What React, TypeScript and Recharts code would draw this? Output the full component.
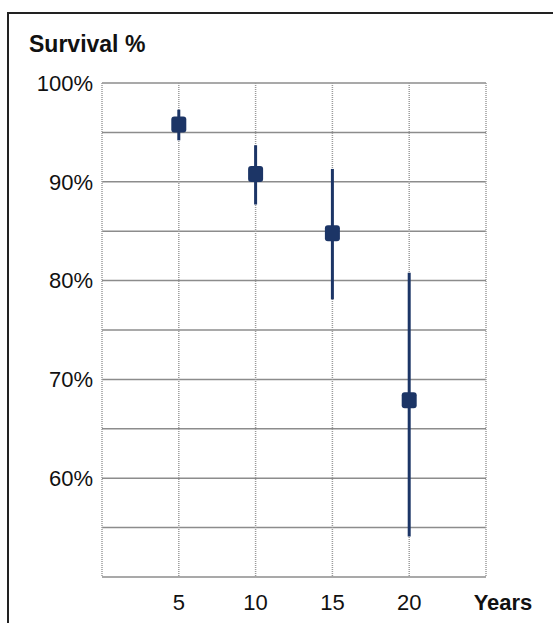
import { ScatterChart, Scatter, ErrorBar, CartesianGrid, XAxis, YAxis } from "recharts";

const years = [5, 10, 15, 20];
const survival = [95.8, 90.8, 84.8, 67.9];
const lower = [94.2, 87.7, 78.1, 54.1];
const upper = [97.3, 93.7, 91.3, 80.8];

const xTicks = [0, 5, 10, 15, 20, 25];
const yTicks = [50, 55, 60, 65, 70, 75, 80, 85, 90, 95, 100];

const data = years.map((year, i) => ({
  year,
  survival: survival[i],
  err: [survival[i] - lower[i], upper[i] - survival[i]],
}));

const NAVY = "#1c3566";
const FONT = "'Liberation Sans', Arial, sans-serif";

function Marker(props: any) {
  const { cx, cy } = props;
  return <rect x={cx - 7.5} y={cy - 8} width={15} height={16} rx={3} fill={NAVY} />;
}

function YearTick(props: any) {
  const { x, y, payload } = props;
  const v = payload.value;
  if (v === 0) return null;
  if (v === 25) {
    return (
      <text x={x + 17} y={y} dy="0.71em" textAnchor="middle" fontSize={22} fontWeight="bold" fill="#111" fontFamily={FONT}>
        Years
      </text>
    );
  }
  return (
    <text x={x} y={y} dy="0.71em" textAnchor="middle" fontSize={22} fill="#111" fontFamily={FONT}>
      {v}
    </text>
  );
}

export default function App() {
  return (
    <div style={{ position: "absolute", left: 0, top: 0, width: 553, height: 623, overflow: "hidden", background: "#fff" }}>
      <div
        style={{
          position: "absolute",
          left: 7,
          top: 12,
          width: 600,
          height: 700,
          border: "2px solid #222",
        }}
      />
      <div
        style={{
          position: "absolute",
          left: 29,
          top: 31,
          fontFamily: FONT,
          fontWeight: "bold",
          fontSize: 23,
          color: "#111",
          lineHeight: "26px",
        }}
      >
        Survival %
      </div>
      <div style={{ position: "absolute", left: 0, top: 0 }}>
        <ScatterChart width={553} height={623} margin={{ top: 83, right: 67, bottom: 0, left: 0 }}>
          <CartesianGrid horizontal={true} vertical={false} stroke="#8c8c8c" strokeWidth={1.5} />
          <CartesianGrid horizontal={false} vertical={true} stroke="#9a9a9a" strokeWidth={1.5} strokeDasharray="1 1" />
          <XAxis
            type="number"
            dataKey="year"
            domain={[0, 25]}
            ticks={xTicks}
            interval={0}
            height={46}
            axisLine={false}
            tickLine={false}
            tickSize={0}
            tickMargin={17}
            tick={<YearTick />}
          />
          <YAxis
            type="number"
            dataKey="survival"
            domain={[50, 100]}
            ticks={yTicks}
            interval={0}
            width={102}
            axisLine={false}
            tickLine={false}
            tickSize={0}
            tickMargin={9}
            tickFormatter={(v: number) => (v > 50 && v % 10 === 0 ? `${v}%` : "")}
            tick={{ fontSize: 22, fill: "#111", fontFamily: FONT }}
          />
          <Scatter data={data} shape={<Marker />} isAnimationActive={false}>
            <ErrorBar dataKey="err" direction="y" width={0} stroke={NAVY} strokeWidth={3} isAnimationActive={false} />
          </Scatter>
        </ScatterChart>
      </div>
    </div>
  );
}
